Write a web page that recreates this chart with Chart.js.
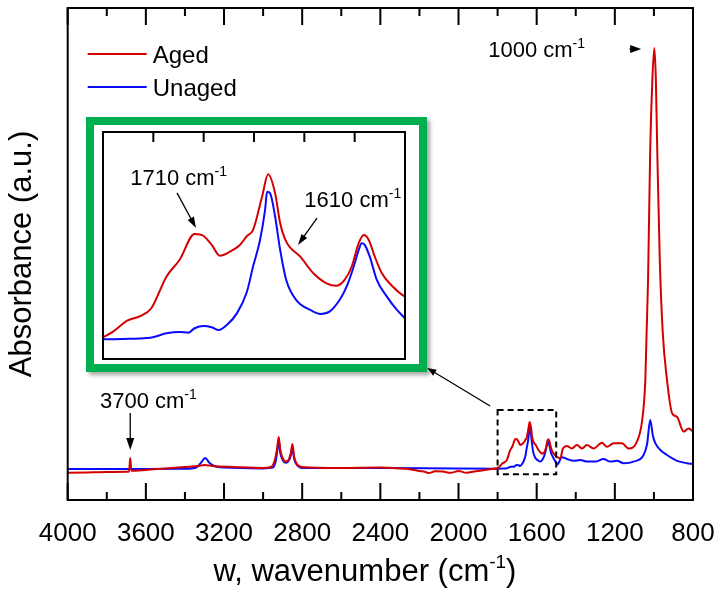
<!DOCTYPE html>
<html>
<head>
<meta charset="utf-8">
<script src="https://cdn.jsdelivr.net/npm/chart.js@4.4.1/dist/chart.umd.min.js"></script>
<style>
  html, body { margin: 0; padding: 0; background: #fff; }
  #wrap { position: relative; width: 717px; height: 594px; }
  #inset {
    position: absolute; left: 86px; top: 117px;
    width: 325px; height: 239px;
    border: 8px solid #00b050; background: #fff;
    box-shadow: 3px 3px 4px rgba(0, 0, 0, 0.35);
  }
  canvas { display: block; }
</style>
</head>
<body>
<div id="wrap">
  <canvas id="main" width="717" height="594"></canvas>
  <div id="inset"><canvas id="zoom" width="325" height="239"></canvas></div>
</div>
<script>
// wavenumbers (cm-1) and absorbance (a.u.)
const agedWn = [4000, 3900, 3800, 3700, 3686, 3680, 3674, 3600, 3500, 3400, 3330, 3300, 3260, 3150, 3000, 2960, 2940, 2928, 2920, 2912, 2900, 2885, 2870, 2858, 2850, 2842, 2830, 2800, 2600, 2400, 2300, 2250, 2200, 2170, 2150, 2120, 2080, 2040, 2000, 1960, 1920, 1880, 1840,
  1800, 1790, 1776, 1763, 1752, 1737, 1724, 1709, 1700, 1692, 1684, 1674, 1664, 1657, 1651, 1642, 1636, 1629, 1624, 1618, 1604, 1591, 1578, 1568, 1560, 1553, 1546, 1541, 1536, 1530, 1523, 1512, 1500,
  1490, 1479, 1466, 1445, 1420, 1394, 1368, 1343, 1309, 1266, 1240, 1206, 1163, 1130, 1087, 1060, 1044, 1030, 1019, 1008, 998, 990, 983, 970, 955, 933, 907, 882, 848, 822, 800];
const agedAbs = [0.068, 0.069, 0.070, 0.0705, 0.071, 0.105, 0.073, 0.075, 0.079, 0.0825, 0.085, 0.0875, 0.085, 0.0825, 0.080, 0.0825, 0.100, 0.130, 0.1575, 0.125, 0.105, 0.096, 0.100, 0.118, 0.140, 0.110, 0.092, 0.0825, 0.080, 0.081, 0.079, 0.077, 0.0725, 0.070, 0.0675, 0.072, 0.071, 0.068, 0.0725, 0.068, 0.071, 0.074, 0.077,
  0.080, 0.0838, 0.0915, 0.0948, 0.1003, 0.1226, 0.1344, 0.1527, 0.1513, 0.1450, 0.1374, 0.1402, 0.1450, 0.1513, 0.1555, 0.1790, 0.1948, 0.1814, 0.1603, 0.1473, 0.1367, 0.1250, 0.1179, 0.1162, 0.1203, 0.1296, 0.1462, 0.1520, 0.1485, 0.1367, 0.1250, 0.1155, 0.1085,
  0.106, 0.104, 0.129, 0.135, 0.129, 0.1375, 0.129, 0.1375, 0.129, 0.143, 0.133, 0.142, 0.142, 0.129, 0.146, 0.20, 0.30, 0.55, 0.875, 1.05, 1.13, 1.05, 0.875, 0.60, 0.42, 0.30, 0.217, 0.208, 0.171, 0.179, 0.171];

const unagedWn = [4000, 3600, 3400, 3340, 3320, 3296, 3275, 3250, 3200, 3000, 2950, 2935, 2927, 2920, 2913, 2900, 2885, 2870, 2858, 2850, 2842, 2830, 2800, 2400, 2000,
  1800, 1773, 1753, 1737, 1724, 1715, 1709, 1700, 1692, 1685, 1677, 1667, 1657, 1651, 1644, 1639, 1637, 1634, 1629, 1624, 1618, 1608, 1594, 1584, 1575, 1565, 1558, 1551, 1546, 1543, 1540, 1535, 1528, 1518, 1508, 1500,
  1494, 1471, 1445, 1411, 1377, 1343, 1300, 1258, 1223, 1189, 1155, 1104, 1053, 1035, 1019, 1005, 993, 967, 933, 882, 831, 800];
const unagedAbs = [0.0775, 0.0775, 0.078, 0.082, 0.092, 0.105, 0.093, 0.085, 0.081, 0.079, 0.081, 0.098, 0.125, 0.150, 0.120, 0.100, 0.093, 0.097, 0.112, 0.133, 0.105, 0.090, 0.080, 0.080, 0.0785,
  0.0784, 0.0788, 0.0795, 0.0826, 0.0836, 0.0831, 0.0862, 0.0878, 0.0869, 0.0850, 0.0885, 0.0967, 0.1120, 0.1296, 0.1485, 0.1697, 0.1826, 0.1814, 0.1649, 0.1414, 0.1203, 0.1061, 0.0991, 0.0963, 0.0979, 0.1061, 0.1155, 0.1296, 0.1414, 0.1462, 0.1450, 0.1367, 0.1203, 0.1085, 0.0991, 0.0932,
  0.089, 0.107, 0.1025, 0.098, 0.100, 0.096, 0.096, 0.1025, 0.096, 0.098, 0.092, 0.096, 0.1125, 0.14, 0.20, 0.16, 0.142, 0.125, 0.1125, 0.098, 0.092, 0.09];

// axis ranges
const mainWn = [800, 4000];
const mainAbs = [0, 1.23];
const zoomWn = [1500, 1800];
const zoomAbs = [0.0645, 0.2247];

const FONT = "'Liberation Sans', Arial, sans-serif";
const RED = "#d40000";
const BLUE = "#0a0aff";

function toPoints(xs, ys) {
  return xs.map((x, i) => ({ x: x, y: ys[i] }));
}

function makeDatasets() {
  return [
    { label: "Aged", data: toPoints(agedWn, agedAbs), borderColor: RED, borderWidth: 2, pointRadius: 0, cubicInterpolationMode: "monotone" },
    { label: "Unaged", data: toPoints(unagedWn, unagedAbs), borderColor: BLUE, borderWidth: 2, pointRadius: 0, cubicInterpolationMode: "monotone" },
  ];
}

// text with a superscript part
function supText(ctx, x, y, base, sup, size, after) {
  ctx.font = size + "px " + FONT;
  const w1 = ctx.measureText(base).width;
  ctx.font = Math.round(size * 0.62) + "px " + FONT;
  const w2 = ctx.measureText(sup).width;
  ctx.font = size + "px " + FONT;
  ctx.textAlign = "left";
  ctx.textBaseline = "alphabetic";
  ctx.fillText(base, x, y);
  if (after) ctx.fillText(after, x + w1 + w2, y);
  ctx.font = Math.round(size * 0.62) + "px " + FONT;
  ctx.fillText(sup, x + w1, y - size * 0.42);
}

function textWidth(ctx, base, sup, size, after) {
  ctx.font = size + "px " + FONT;
  let w = ctx.measureText(base).width + (after ? ctx.measureText(after).width : 0);
  ctx.font = Math.round(size * 0.62) + "px " + FONT;
  return w + ctx.measureText(sup).width;
}

function arrow(ctx, x1, y1, x2, y2, head, width) {
  const a = Math.atan2(y2 - y1, x2 - x1);
  const c = Math.cos(a), s = Math.sin(a);
  ctx.beginPath();
  ctx.moveTo(x1, y1);
  ctx.lineTo(x2 - c * head * 0.8, y2 - s * head * 0.8);
  ctx.stroke();
  ctx.beginPath();
  ctx.moveTo(x2, y2);
  ctx.lineTo(x2 - head * c + (width / 2) * s, y2 - head * s - (width / 2) * c);
  ctx.lineTo(x2 - head * c - (width / 2) * s, y2 - head * s + (width / 2) * c);
  ctx.closePath();
  ctx.fill();
}

// frame, inward ticks, legend, notes for the big chart
const mainDecor = {
  id: "mainDecor",
  afterDraw(chart) {
    const { ctx, chartArea: a } = chart;
    const x = chart.scales.x, y = chart.scales.y;
    const px = (w) => x.getPixelForValue(w);
    const py = (v) => y.getPixelForValue(v);
    ctx.save();
    ctx.strokeStyle = "#000";
    ctx.fillStyle = "#000";
    ctx.lineWidth = 2;
    ctx.strokeRect(a.left, a.top, a.right - a.left, a.bottom - a.top);

    ctx.beginPath();
    for (let w = mainWn[0]; w <= mainWn[1]; w += 200) {
      const len = w % 400 === 0 ? 17 : 8;
      ctx.moveTo(px(w), a.bottom); ctx.lineTo(px(w), a.bottom - len);
      ctx.moveTo(px(w), a.top); ctx.lineTo(px(w), a.top + len);
    }
    ctx.stroke();

    // legend
    chart.data.datasets.forEach((ds, i) => {
      const ly = a.top + 46 + i * 33;
      ctx.strokeStyle = ds.borderColor;
      ctx.beginPath();
      ctx.moveTo(a.left + 20, ly); ctx.lineTo(a.left + 79, ly);
      ctx.stroke();
      ctx.fillStyle = "#000";
      ctx.font = "24px " + FONT;
      ctx.textAlign = "left";
      ctx.textBaseline = "middle";
      ctx.fillText(ds.label, a.left + 85, ly + 2);
    });

    ctx.strokeStyle = "#000";
    ctx.fillStyle = "#000";
    ctx.lineWidth = 1.3;

    // 1000 cm-1 peak note
    supText(ctx, px(1848), py(1.1075), "1000 cm", "-1", 22);
    arrow(ctx, px(1125), py(1.1275), px(1065), py(1.1275), 11, 8);

    // 3700 cm-1 note
    supText(ctx, px(3835), py(0.23), "3700 cm", "-1", 22);
    arrow(ctx, px(3680), py(0.2175), px(3680), py(0.125), 12, 8);

    // dashed box around the zoomed region
    ctx.save();
    ctx.lineWidth = 2;
    ctx.setLineDash([6, 4]);
    ctx.strokeRect(px(zoomWn[1]), py(zoomAbs[1]), px(zoomWn[0]) - px(zoomWn[1]), py(zoomAbs[0]) - py(zoomAbs[1]));
    ctx.restore();

    // leader to the inset
    arrow(ctx, px(1838), py(0.235), px(2160), py(0.33), 9, 7);

    // x axis title
    const tw = textWidth(ctx, "w, wavenumber (cm", "-1", 31, ")");
    supText(ctx, 365 - tw / 2, 581, "w, wavenumber (cm", "-1", 31, ")");
    ctx.restore();
  },
};

new Chart(document.getElementById("main"), {
  type: "line",
  data: { datasets: makeDatasets() },
  options: {
    responsive: false,
    animation: false,
    layout: { padding: { top: 8, right: 24, left: 0, bottom: 0 } },
    plugins: { legend: { display: false }, tooltip: { enabled: false } },
    scales: {
      x: {
        type: "linear",
        reverse: true,
        min: mainWn[0],
        max: mainWn[1],
        ticks: {
          stepSize: 400, autoSkip: false, maxRotation: 0, padding: 18, color: "#000",
          font: { family: FONT, size: 26 },
          callback: (v) => String(v),
        },
        grid: { display: false, drawTicks: false },
        border: { display: false },
        afterFit: (s) => { s.height = 94; s.paddingLeft = 0; s.paddingRight = 0; },
      },
      y: {
        min: mainAbs[0],
        max: mainAbs[1],
        ticks: { display: false },
        grid: { display: false, drawTicks: false },
        border: { display: false },
        title: { display: true, text: "Absorbance (a.u.)", color: "#000", font: { family: FONT, size: 31 }, padding: { top: 4, bottom: 4 } },
        afterFit: (s) => { s.width = 67.7; },
      },
    },
  },
  plugins: [mainDecor],
});

// frame, top ticks and notes for the inset
const zoomDecor = {
  id: "zoomDecor",
  afterDraw(chart) {
    const { ctx, chartArea: a } = chart;
    const px = (w) => chart.scales.x.getPixelForValue(w);
    const py = (v) => chart.scales.y.getPixelForValue(v);
    ctx.save();
    ctx.strokeStyle = "#000";
    ctx.fillStyle = "#000";
    ctx.lineWidth = 2;
    ctx.strokeRect(a.left, a.top, a.right - a.left, a.bottom - a.top);
    ctx.beginPath();
    for (let w = zoomWn[0] + 50; w < zoomWn[1]; w += 50) {
      ctx.moveTo(px(w), a.top); ctx.lineTo(px(w), a.top + 10);
    }
    ctx.stroke();

    ctx.lineWidth = 1.3;
    supText(ctx, px(1773), py(0.1873), "1710 cm", "-1", 22);
    arrow(ctx, px(1726.5), py(0.1817), px(1707.6), py(0.157), 11, 7);
    supText(ctx, px(1600), py(0.1718), "1610 cm", "-1", 22);
    arrow(ctx, px(1587.4), py(0.164), px(1606.3), py(0.145), 11, 7);
    ctx.restore();
  },
};

new Chart(document.getElementById("zoom"), {
  type: "line",
  data: { datasets: makeDatasets() },
  options: {
    responsive: false,
    animation: false,
    layout: { padding: { left: 9, right: 14, top: 7, bottom: 5 } },
    plugins: { legend: { display: false }, tooltip: { enabled: false } },
    scales: {
      x: { type: "linear", reverse: true, min: zoomWn[0], max: zoomWn[1], display: false },
      y: { min: zoomAbs[0], max: zoomAbs[1], display: false },
    },
  },
  plugins: [zoomDecor],
});
</script>
</body>
</html>
